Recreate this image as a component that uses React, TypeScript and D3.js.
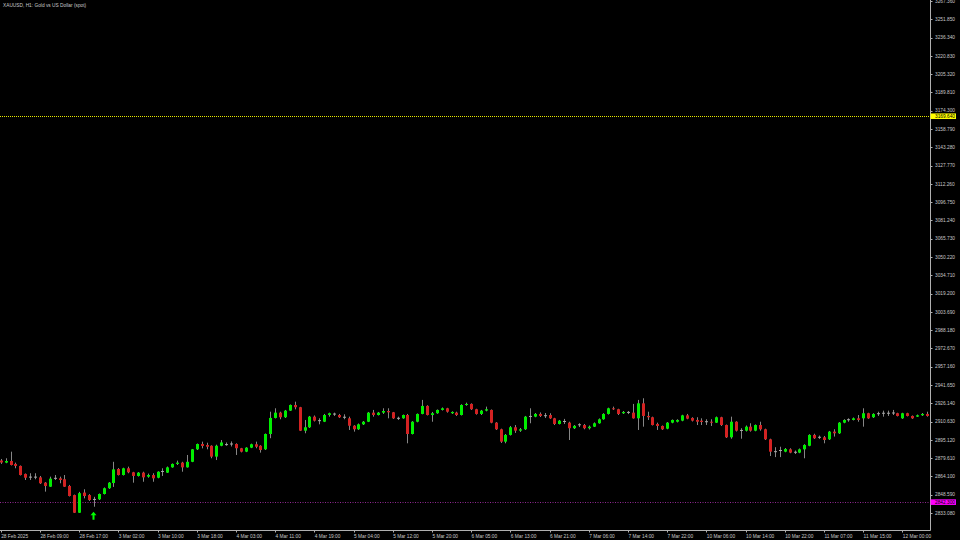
import React from "react";
import * as d3 from "d3";

// ---- Data (XAUUSD H1) ----
const opens = [2877.6,2875.8,2877.2,2874.7,2873.0,2866.2,2863.3,2863.5,2863.3,2858.8,2855.4,2862.2,2862.5,2861.7,2856.0,2848.3,2833.3,2850.4,2848.3,2844.1,2844.7,2849.2,2854.1,2858.5,2870.4,2865.3,2871.0,2867.6,2864.5,2867.3,2863.9,2865.3,2863.0,2868.1,2867.3,2871.8,2874.7,2875.8,2871.8,2876.5,2887.1,2891.6,2890.8,2890.1,2880.9,2890.1,2890.9,2891.3,2891.6,2888.0,2885.1,2888.5,2891.4,2890.1,2887.1,2900.1,2913.7,2918.2,2914.3,2919.9,2924.7,2922.8,2902.9,2905.8,2914.8,2911.4,2910.5,2916.2,2917.0,2916.2,2914.3,2913.4,2907.1,2904.1,2908.3,2910.5,2918.2,2916.2,2918.2,2919.6,2918.5,2913.4,2913.4,2916.2,2900.1,2910.5,2917.1,2923.9,2916.2,2917.7,2920.5,2921.9,2917.7,2918.2,2916.2,2924.7,2925.6,2921.1,2917.1,2919.9,2920.5,2909.7,2904.1,2893.6,2899.3,2905.8,2902.9,2904.1,2914.8,2914.8,2917.1,2915.4,2916.2,2913.4,2908.6,2910.5,2909.7,2905.0,2907.7,2907.7,2905.0,2906.3,2909.2,2912.6,2917.1,2921.9,2921.1,2917.7,2918.2,2918.2,2913.4,2926.1,2915.4,2914.3,2908.6,2906.9,2904.6,2909.7,2910.5,2911.4,2915.9,2913.7,2912.0,2911.4,2910.5,2910.5,2909.7,2914.3,2907.7,2897.3,2910.5,2902.9,2902.9,2906.3,2902.9,2907.7,2904.1,2895.6,2885.1,2885.9,2885.1,2887.1,2884.6,2884.3,2887.1,2890.1,2899.3,2897.3,2897.3,2895.6,2902.1,2900.7,2909.7,2912.0,2912.0,2913.4,2913.4,2917.7,2914.3,2917.1,2917.7,2917.5,2917.7,2917.7,2913.4,2917.7,2915.4,2914.8,2916.0,2917.1];
const highs = [2878.9,2879.5,2885.1,2875.8,2873.4,2866.6,2866.8,2866.8,2864.5,2859.3,2863.9,2865.3,2863.9,2865.3,2856.9,2848.7,2851.0,2853.2,2849.1,2846.8,2849.6,2854.7,2859.3,2876.5,2871.2,2871.5,2872.4,2868.0,2867.8,2868.1,2866.5,2866.8,2868.5,2871.0,2872.5,2875.1,2877.5,2876.5,2882.3,2887.4,2892.0,2893.6,2892.7,2890.5,2891.0,2895.0,2892.9,2893.8,2892.2,2888.3,2888.9,2891.9,2893.6,2890.6,2900.5,2919.0,2921.9,2919.0,2920.5,2925.1,2927.5,2923.1,2912.0,2915.4,2915.8,2913.4,2917.1,2918.2,2918.2,2917.1,2916.8,2914.8,2907.6,2909.0,2911.1,2918.8,2920.5,2918.8,2921.9,2921.9,2918.8,2914.8,2916.6,2917.1,2911.0,2917.5,2929.0,2924.5,2918.8,2920.9,2922.6,2922.3,2919.3,2919.0,2925.3,2926.7,2926.1,2921.5,2920.5,2923.3,2920.9,2910.2,2904.6,2900.1,2906.9,2907.7,2905.2,2915.4,2921.9,2917.9,2918.4,2917.9,2917.7,2913.8,2912.0,2912.9,2910.5,2907.7,2909.2,2908.6,2907.3,2909.9,2913.3,2917.7,2922.4,2923.3,2921.5,2919.6,2919.6,2925.6,2929.0,2930.4,2919.0,2914.8,2909.7,2907.3,2910.2,2912.4,2912.6,2916.4,2917.1,2914.3,2914.3,2913.4,2912.6,2912.6,2914.9,2914.7,2908.1,2914.8,2910.9,2905.0,2907.3,2909.2,2908.2,2910.5,2904.6,2896.1,2888.9,2889.3,2888.2,2888.0,2886.1,2887.8,2891.4,2899.9,2900.3,2898.8,2898.4,2902.7,2904.1,2910.2,2912.6,2913.4,2914.1,2916.2,2921.9,2918.1,2917.7,2919.0,2919.9,2919.9,2920.5,2918.1,2918.1,2918.1,2915.8,2916.6,2917.9,2919.0];
const lows = [2874.7,2875.3,2873.4,2871.0,2864.9,2861.1,2861.1,2861.7,2857.7,2851.2,2855.2,2861.1,2858.3,2855.2,2847.1,2833.1,2833.1,2845.5,2843.3,2838.4,2844.1,2848.8,2853.5,2855.2,2864.9,2864.9,2866.8,2858.8,2864.0,2859.6,2863.0,2859.6,2862.5,2864.5,2867.0,2871.5,2873.8,2868.1,2871.6,2876.2,2886.5,2887.9,2887.1,2879.5,2878.0,2889.7,2890.1,2889.5,2882.3,2884.5,2884.7,2888.1,2888.0,2884.3,2886.5,2896.5,2913.3,2912.6,2913.7,2919.6,2921.0,2902.6,2900.7,2905.2,2910.7,2908.3,2910.2,2914.8,2915.4,2913.7,2912.6,2903.5,2902.1,2903.5,2907.7,2910.2,2914.8,2915.8,2917.1,2913.4,2912.9,2912.0,2913.0,2892.2,2899.7,2910.0,2916.8,2915.8,2910.5,2917.2,2920.0,2918.2,2917.1,2915.4,2915.8,2924.1,2920.5,2916.5,2916.2,2919.3,2909.2,2903.5,2892.5,2892.2,2898.8,2901.0,2901.9,2903.5,2909.2,2914.3,2914.5,2913.7,2912.9,2907.7,2908.2,2908.6,2895.0,2904.3,2906.0,2904.1,2903.9,2906.0,2908.8,2912.2,2916.6,2920.5,2916.2,2917.1,2917.0,2913.1,2903.5,2906.3,2912.0,2907.3,2903.5,2903.5,2904.1,2909.2,2909.9,2910.9,2912.6,2910.7,2907.7,2907.7,2907.7,2906.9,2909.4,2906.9,2896.7,2896.1,2902.2,2896.1,2902.2,2902.1,2902.4,2902.9,2895.0,2881.4,2880.5,2880.5,2884.6,2883.8,2883.1,2883.8,2879.5,2889.7,2895.9,2895.9,2892.2,2895.0,2897.9,2900.1,2909.2,2910.5,2911.6,2910.5,2906.3,2912.9,2913.7,2915.4,2914.8,2915.4,2916.2,2915.0,2912.9,2915.0,2912.9,2914.5,2915.4,2914.8];
const closes = [2875.9,2877.2,2873.8,2873.0,2865.3,2863.0,2863.5,2863.2,2858.3,2856.0,2862.2,2862.5,2861.1,2855.4,2847.5,2833.3,2849.9,2847.5,2844.1,2844.6,2849.2,2854.1,2858.8,2870.1,2865.3,2871.0,2867.6,2864.5,2867.3,2863.3,2865.3,2862.5,2868.1,2868.3,2871.8,2874.7,2875.8,2871.8,2876.5,2887.1,2891.6,2889.9,2889.3,2880.9,2890.1,2892.9,2891.1,2891.6,2888.0,2885.1,2888.5,2891.4,2889.3,2886.5,2900.1,2913.7,2918.2,2914.3,2919.9,2924.7,2922.8,2902.9,2905.8,2914.8,2911.4,2911.2,2916.2,2917.7,2916.8,2914.3,2914.1,2907.1,2904.1,2908.3,2910.5,2918.2,2916.2,2918.2,2919.6,2918.5,2913.4,2913.2,2916.2,2900.1,2910.5,2917.1,2923.9,2916.2,2917.7,2920.5,2921.9,2919.0,2918.8,2916.2,2924.7,2925.6,2921.1,2917.1,2919.9,2921.1,2909.7,2904.1,2893.6,2899.3,2905.8,2902.9,2904.1,2914.8,2915.0,2917.1,2915.4,2915.6,2913.4,2908.6,2911.4,2910.7,2905.0,2907.0,2907.9,2905.0,2906.3,2909.2,2912.6,2917.1,2921.9,2921.1,2917.1,2918.8,2918.4,2913.4,2926.1,2915.4,2914.3,2907.7,2906.9,2904.1,2909.7,2912.0,2912.0,2915.9,2913.1,2911.4,2910.5,2910.3,2910.3,2909.7,2914.3,2907.7,2897.3,2910.5,2902.9,2903.1,2906.3,2902.9,2907.7,2904.1,2895.6,2885.1,2884.9,2886.1,2887.4,2884.3,2884.4,2887.1,2890.8,2899.3,2896.5,2897.1,2895.0,2902.1,2900.7,2909.7,2912.0,2912.2,2913.4,2912.0,2917.7,2913.4,2917.1,2917.3,2917.5,2917.7,2917.9,2915.4,2917.7,2915.4,2913.4,2916.0,2917.1,2915.4];

const priceLabels = ["3267.360","3251.850","3236.340","3220.830","3205.320","3189.810","3174.300","3158.790","3143.280","3127.770","3112.260","3096.750","3081.240","3065.730","3050.220","3034.710","3019.200","3003.690","2988.180","2972.670","2957.160","2941.650","2926.140","2910.630","2895.120","2879.610","2864.100","2848.590","2833.080"];
const timeLabels = ["28 Feb 2025","28 Feb 09:00","28 Feb 17:00","3 Mar 02:00","3 Mar 10:00","3 Mar 18:00","4 Mar 03:00","4 Mar 11:00","4 Mar 19:00","5 Mar 04:00","5 Mar 12:00","5 Mar 20:00","6 Mar 05:00","6 Mar 13:00","6 Mar 21:00","7 Mar 06:00","7 Mar 14:00","7 Mar 22:00","10 Mar 06:00","10 Mar 14:00","10 Mar 22:00","11 Mar 07:00","11 Mar 15:00","12 Mar 00:00"];
const timeLabelStep = 8;
const yellowLevel = 3169.64;
const magentaLevel = 2842.3;
const arrowBar = 19;
const title = "XAUUSD, H1:  Gold vs US Dollar (spot)";

const W = 960, H = 540;
const plotRight = 930.5, plotBottom = 530.5;
const FONT = "'Liberation Sans', Arial, sans-serif";

export default function App() {
  const y = d3.scaleLinear().domain([2833.08, 3251.85]).range([513, 19.3]);
  const x = d3.scaleLinear().domain([0, opens.length - 1]).range([0.7, 0.7 + 4.9 * (opens.length - 1)]);
  const bull = "#00ee00", bear = "#d42222", wick = "#a8a8a8";
  const textCol = "#c8c8c8";
  return (
    <div style={{ position: "fixed", left: 0, top: 0 }}>
      <svg width={W} height={H} style={{ display: "block", background: "#000" }}>
        <rect x={0} y={0} width={W} height={H} fill="#000" />
        <text x={3} y={6.5} fill={textCol} fontSize={4.8} fontFamily={FONT}>{title}</text>
        {/* horizontal levels */}
        <line x1={0} x2={plotRight} y1={Math.round(y(yellowLevel)) + 0.5} y2={Math.round(y(yellowLevel)) + 0.5} stroke="#e8e800" strokeDasharray="1,1" strokeWidth={1} />
        <line x1={0} x2={plotRight} y1={Math.round(y(magentaLevel)) + 0.5} y2={Math.round(y(magentaLevel)) + 0.5} stroke="#902890" strokeDasharray="1,1.5" strokeWidth={1} />
        {/* candles */}
        {opens.map((o, i) => {
          const c = closes[i];
          const cx = Math.round(x(i)) + 0.5;
          const top = y(Math.max(o, c)), bot = y(Math.min(o, c));
          const isDoji = bot - top < 0.8;
          const col = c >= o ? bull : bear;
          return (
            <g key={i}>
              <line x1={cx} x2={cx} y1={y(highs[i])} y2={y(lows[i])} stroke={wick} strokeWidth={1} opacity={0.8} />
              {isDoji ? (
                <line x1={cx - 1.5} x2={cx + 1.5} y1={top} y2={top} stroke={wick} strokeWidth={1} />
              ) : (
                <rect x={cx - 1.5} y={top} width={3} height={Math.max(1, bot - top)} fill={col} />
              )}
            </g>
          );
        })}
        {/* arrow */}
        <g transform={`translate(${Math.round(x(arrowBar)) - 0.5},${y(lows[arrowBar]) + 5})`}>
          <path d="M0,0 L-3,3.5 L-1,3.5 L-1,8 L1,8 L1,3.5 L3,3.5 Z" fill="#00ff00" />
        </g>
        {/* axes */}
        <line x1={plotRight} x2={plotRight} y1={0} y2={plotBottom} stroke="#b0b0b0" strokeWidth={1} />
        <line x1={0} x2={plotRight} y1={plotBottom} y2={plotBottom} stroke="#b0b0b0" strokeWidth={1} />
        {priceLabels.map((p) => {
          const yy = y(parseFloat(p));
          return (
            <g key={p}>
              <line x1={plotRight} x2={plotRight + 2} y1={Math.round(yy) + 0.5} y2={Math.round(yy) + 0.5} stroke="#b0b0b0" />
              <text x={935} y={yy + 1.7} fill={textCol} fontSize={4.8} fontFamily={FONT}>{p}</text>
            </g>
          );
        })}
        {/* level labels */}
        <rect x={930.5} y={y(yellowLevel) - 2.8} width={25.5} height={5.6} fill="#ffff00" />
        <text x={935} y={y(yellowLevel) + 1.7} fill="#000" fontSize={4.8} fontFamily={FONT}>{yellowLevel.toFixed(3)}</text>
        <rect x={930.5} y={y(magentaLevel) - 2.8} width={25.5} height={5.6} fill="#ff00ff" />
        <text x={935} y={y(magentaLevel) + 1.7} fill="#000" fontSize={4.8} fontFamily={FONT}>{magentaLevel.toFixed(3)}</text>
        {timeLabels.map((t, k) => {
          const xx = x(k * timeLabelStep);
          return (
            <g key={t}>
              <line x1={Math.round(xx) + 0.5} x2={Math.round(xx) + 0.5} y1={plotBottom} y2={plotBottom + 2} stroke="#b0b0b0" />
              <text x={xx + 0.5} y={537.5} fill={textCol} fontSize={4.8} fontFamily={FONT}>{t}</text>
            </g>
          );
        })}
      </svg>
    </div>
  );
}
